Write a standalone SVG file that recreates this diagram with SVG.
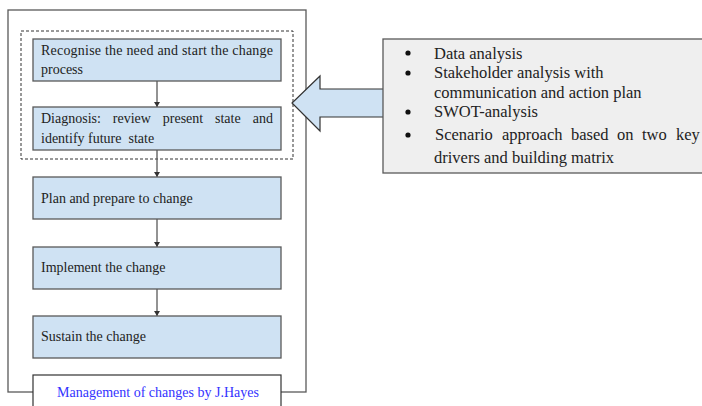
<svg xmlns="http://www.w3.org/2000/svg" width="702" height="406" viewBox="0 0 702 406" font-family="Liberation Serif, Times New Roman, serif">
<defs>
<style>
.box{fill:#cfe2f3;stroke:#595959;stroke-width:1.3}
.t{font-size:14px;fill:#222}
.b{font-size:16.5px;fill:#222}
.con{stroke:#595959;stroke-width:1.3;fill:none;marker-end:url(#ah)}
</style>
<marker id="ah" markerWidth="6" markerHeight="6" refX="5" refY="3" orient="auto" markerUnits="userSpaceOnUse">
<path d="M0,0 L5,3 L0,6 Z" fill="#333"/>
</marker>
</defs>
<rect width="702" height="406" fill="#fff"/>
<g id="frame">
<rect x="8" y="10" width="298" height="382" fill="none" stroke="#595959" stroke-width="1.3"/>
<rect x="21" y="31" width="272" height="128" fill="none" stroke="#333" stroke-width="1" stroke-dasharray="3,2"/>
</g>
<g id="connectors">
<line class="con" x1="157" y1="81" x2="157" y2="107"/>
<line class="con" x1="157" y1="150" x2="157" y2="177"/>
<line class="con" x1="157" y1="219" x2="157" y2="247"/>
<line class="con" x1="157" y1="289" x2="157" y2="316"/>
<path d="M383,89 L320,89 L320,76 L292,103 L320,131 L320,117 L383,117" fill="#cfe2f3" stroke="#333" stroke-width="1.2"/>
</g>
<g id="n1">
<rect class="box" x="33" y="39" width="248" height="42"/>
<text class="t" x="41" y="55" textLength="232" lengthAdjust="spacing">Recognise the need and start the change</text>
<text class="t" x="41" y="74">process</text>
</g>
<g id="n2">
<rect class="box" x="33" y="107" width="248" height="43"/>
<text class="t" y="123"><tspan x="41">Diagnosis:</tspan><tspan x="112.8">review</tspan><tspan x="162.8">present</tspan><tspan x="215">state</tspan><tspan x="252.7">and</tspan></text>
<text class="t" x="41" y="143" xml:space="preserve">identify future  state</text>
</g>
<g id="n3">
<rect class="box" x="33" y="177" width="248" height="42"/>
<text class="t" x="41" y="203">Plan and prepare to change</text>
</g>
<g id="n4">
<rect class="box" x="33" y="247" width="248" height="42"/>
<text class="t" x="41" y="272">Implement the change</text>
</g>
<g id="n5">
<rect class="box" x="33" y="316" width="248" height="42"/>
<text class="t" x="41" y="341">Sustain the change</text>
</g>
<g id="caption">
<rect x="33" y="375" width="248" height="40" fill="#fff" stroke="#333" stroke-width="1.2"/>
<text x="158" y="397" text-anchor="middle" font-size="14" fill="#3333ff">Management of changes by J.Hayes</text>
</g>
<g id="tools">
<rect x="383" y="39" width="330" height="134" fill="#efefef" stroke="#595959" stroke-width="1.3"/>
<g fill="#111">
<circle cx="408" cy="53" r="2.6"/>
<circle cx="408" cy="73" r="2.6"/>
<circle cx="408" cy="112" r="2.6"/>
<circle cx="408" cy="135" r="2.6"/>
</g>
<text class="b" x="434" y="59">Data analysis</text>
<text class="b" x="434" y="78">Stakeholder analysis with</text>
<text class="b" x="434" y="98">communication and action plan</text>
<text class="b" x="434" y="117">SWOT-analysis</text>
<text class="b" y="140"><tspan x="435">Scenario</tspan><tspan x="502">approach</tspan><tspan x="571">based</tspan><tspan x="617">on</tspan><tspan x="642">two</tspan><tspan x="676">key</tspan></text>
<text class="b" x="434" y="163">drivers and building matrix</text>
</g>
</svg>
